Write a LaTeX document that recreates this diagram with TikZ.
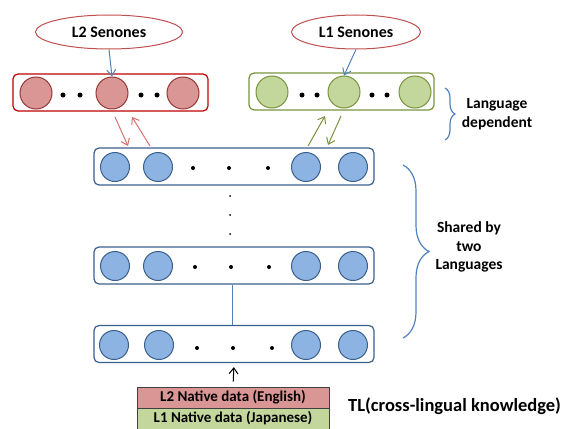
\documentclass[tikz,border=0pt]{standalone}
\usepackage{fontspec}
\setmainfont{Carlito}
\usetikzlibrary{arrows.meta, shapes.geometric, decorations.pathreplacing}

\definecolor{senred}{HTML}{C0504D}
\definecolor{redfill}{HTML}{D99694}
\definecolor{reddraw}{HTML}{953735}
\definecolor{redframe}{HTML}{C00000}
\definecolor{redarrow}{HTML}{D6716E}
\definecolor{greenfill}{HTML}{C3D69B}
\definecolor{greendraw}{HTML}{77933C}
\definecolor{bluefill}{HTML}{8DB3E2}
\definecolor{bluedraw}{HTML}{3A5F8C}
\definecolor{blueline}{HTML}{4F81BD}

\begin{document}
\begin{tikzpicture}[
    x=1pt, y=-1pt,
    senone/.style={ellipse, draw=senred, line width=1pt, fill=white, inner sep=0pt, minimum height=34pt, font=\bfseries\fontsize{16}{18}\selectfont},
    layer/.style={rectangle, draw, rounded corners=5pt, line width=1.2pt, minimum height=37pt, inner sep=0pt},
    unit/.style={circle, line width=1pt, inner sep=0pt},
    redunit/.style={unit, draw=reddraw, fill=redfill, minimum size=32pt},
    greenunit/.style={unit, draw=greendraw, fill=greenfill, minimum size=32pt},
    blueunit/.style={unit, draw=bluedraw, fill=bluefill, minimum size=29pt},
    data/.style={rectangle, draw=black!75, line width=0.8pt, minimum width=192pt, minimum height=21pt, inner sep=0pt, font=\bfseries\fontsize{15}{15}\selectfont},
    arrow/.style={-{Straight Barb[length=6pt, width=9pt]}, line width=1pt},
    bracket/.style={draw=blueline, line width=1.2pt, decorate},
    label/.style={align=center, font=\bfseries\fontsize{15.5}{18.5}\selectfont}
]
\useasboundingbox (0,0) rectangle (564,428);

% Senones
\node[senone, minimum width=147pt] (l2sen) at (109,32) {L2 Senones};
\node[senone, minimum width=129pt] (l1sen) at (356,32) {L1 Senones};

% Language dependent layers
\node[layer, draw=redframe, minimum width=195pt] (redlayer) at (110.5,92.5) {};
\node[redunit] (r1) at (36,93) {};
\node[redunit] (r2) at (112,93) {};
\node[redunit] (r3) at (183,93) {};
\fill (63,95) circle (2.5pt) (80,95) circle (2.5pt) (141,95) circle (2.5pt) (157,95) circle (2.5pt);

\node[layer, draw=greendraw, minimum width=185pt] (greenlayer) at (341.5,91.5) {};
\node[greenunit] (g1) at (272,92) {};
\node[greenunit] (g2) at (344,92) {};
\node[greenunit] (g3) at (415,92) {};
\fill (302,95) circle (2.5pt) (317,95) circle (2.5pt) (372,95) circle (2.5pt) (387,95) circle (2.5pt);

% Shared layers
\node[layer, draw=bluedraw, minimum width=280pt] (toplayer) at (234,166.5) {};
\node[blueunit] (t1) at (115,167) {};
\node[blueunit] (t2) at (158,167) {};
\node[blueunit] (t3) at (306,167) {};
\node[blueunit] (t4) at (353,167) {};
\fill (193,168) circle (2pt) (229,168) circle (2pt) (268,168) circle (2pt);

\fill (230,196) circle (1pt) (230,215) circle (1pt) (230,234) circle (1pt);

\node[layer, draw=bluedraw, minimum width=280pt] (midlayer) at (234,265.5) {};
\node[blueunit] (m1) at (115,266) {};
\node[blueunit] (m2) at (158,266) {};
\node[blueunit] (m3) at (306,266) {};
\node[blueunit] (m4) at (353,266) {};
\fill (195,267) circle (2pt) (231,267) circle (2pt) (269,267) circle (2pt);

\node[layer, draw=bluedraw, minimum width=280pt] (botlayer) at (234,344) {};
\node[blueunit] (b1) at (114,345) {};
\node[blueunit] (b2) at (159,345) {};
\node[blueunit] (b3) at (306,345) {};
\node[blueunit] (b4) at (353,345) {};
\fill (197,348) circle (2pt) (233,348) circle (2pt) (272,348) circle (2pt);

% Input data
\node[data, fill=redfill] (l2data) at (233,397.5) {L2 Native data (English)};
\node[data, fill=greenfill] (l1data) at (233,418.5) {L1 Native data (Japanese)};
\node[anchor=west, font=\bfseries\fontsize{18.5}{20}\selectfont, inner sep=0pt] (tl) at (348,406) {TL(cross-lingual knowledge)};

% Arrows
\draw[arrow, blueline] (l2sen.south) -- (r2.north);
\draw[arrow, blueline] (l1sen.south) -- (g2.north);

\coordinate (rdown1) at (115,117);
\coordinate (rdown2) at (128,146);
\coordinate (rup1) at (150,146);
\coordinate (rup2) at (132,117);
\draw[arrow, redarrow] (rdown1) -- (rdown2);
\draw[arrow, redarrow] (rup1) -- (rup2);

\coordinate (gup1) at (308,146);
\coordinate (gup2) at (325,116);
\coordinate (gdown1) at (341,116);
\coordinate (gdown2) at (328,145);
\draw[arrow, greendraw] (gup1) -- (gup2);
\draw[arrow, greendraw] (gdown1) -- (gdown2);

\draw[blueline, line width=1pt] ([xshift=-2pt]midlayer.south) -- ([xshift=-2pt]botlayer.north);
\draw[arrow, black, shorten <=5pt, shorten >=4pt] (l2data.north) -- (botlayer.south);

% Brackets
\coordinate (smalltop) at (445,88);
\coordinate (smallbot) at (445,140);
\draw[bracket, decoration={brace, amplitude=10pt}] (smalltop) -- (smallbot);
\node[label] (langdep) at (497,114) {Language\\dependent};

\coordinate (bigtop) at (403,165);
\coordinate (bigbot) at (403,338);
\draw[bracket, decoration={brace, amplitude=26pt}] (bigtop) -- (bigbot);
\node[label] (shared) at (469,247) {Shared by\\two\\Languages};

\end{tikzpicture}
\end{document}
